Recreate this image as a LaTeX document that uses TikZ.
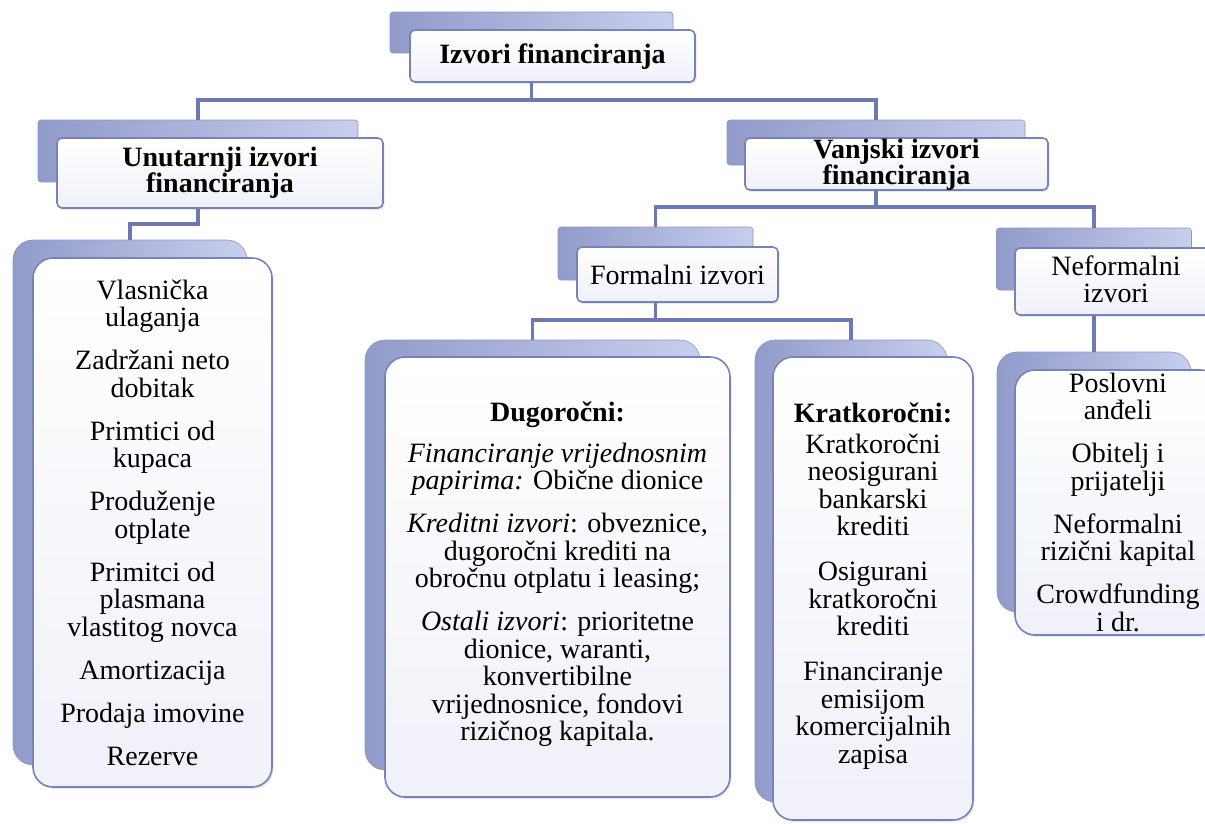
\documentclass[tikz,border=0pt]{standalone}
\usepackage{fontspec}
\setmainfont{Liberation Serif}
\usetikzlibrary{shadows}
\definecolor{connC}{RGB}{108,121,178}
\definecolor{frameC}{RGB}{118,130,188}
\definecolor{plateL}{RGB}{145,155,202}
\definecolor{plateR}{RGB}{200,206,237}
\definecolor{plateE}{RGB}{140,150,196}
\definecolor{boxbot}{RGB}{240,241,249}
\newcommand\tightlines{\lineskiplimit-50pt\relax}
\tikzset{
  plate/.style={rectangle, inner sep=0pt, outer sep=0pt, left color=plateL, right color=plateR, draw=plateE, line width=0.6pt},
  hplate/.style={plate, rounded corners=3pt},
  cplate/.style={plate, rounded corners=20pt},
  front/.style={rectangle, inner sep=0pt, outer sep=0pt, draw=frameC, line width=1.6pt, top color=white, bottom color=boxbot,
    drop shadow={opacity=0.18, shadow xshift=1.5pt, shadow yshift=-2pt}},
  hfront/.style={front, rounded corners=5pt},
  cfront/.style={front, rounded corners=20pt},
  txt/.style={align=center, inner sep=0pt, font={\fontsize{28}{27.5}\selectfont\tightlines}},
  htxt/.style={align=center, inner sep=0pt, font={\fontsize{28}{26.5}\selectfont\bfseries\tightlines}},
  link/.style={draw=connC, line width=3.5pt},
}
\begin{document}
\begin{tikzpicture}[x=1pt,y=-1pt]
\useasboundingbox (0,0) rectangle (1205,823);
\clip (0,0) rectangle (1205,823);
% back plates
\node[hplate, minimum width=283pt, minimum height=41pt] (topB) at (531.5,32.5) {};
\node[hplate, minimum width=320pt, minimum height=62pt] (unB) at (198,151) {};
\node[hplate, minimum width=298pt, minimum height=45pt] (vaB) at (876,142.5) {};
\node[hplate, minimum width=195pt, minimum height=53pt] (foB) at (655.5,253.5) {};
\node[hplate, minimum width=195pt, minimum height=62pt] (neB) at (1094,259) {};
\node[cplate, minimum width=234pt, minimum height=525pt] (leftB) at (130,502.5) {};
\node[cplate, minimum width=335pt, minimum height=430pt] (duB) at (532.5,555) {};
\node[cplate, minimum width=192pt, minimum height=462pt] (krB) at (851,571) {};
\node[cplate, minimum width=194pt, minimum height=260pt] (nfB) at (1094,482) {};
% connectors
\coordinate (j0) at (531.5,100);
\coordinate (j1) at (198,224);
\coordinate (j2) at (876,207);
\coordinate (j3) at (655.5,320);
\draw[link] (topB.south) -- (j0);
\draw[link] (unB.north) |- (j0) -| (vaB.north);
\draw[link] (unB.south) -- (j1) -| (leftB.north);
\draw[link] (vaB.south) -- (j2);
\draw[link] (foB.north) |- (j2) -| (neB.north);
\draw[link] (foB.south) -- (j3);
\draw[link] (duB.north) |- (j3) -| (krB.north);
\draw[link] (neB.south) -- (nfB.north);
% front boxes
\node[hfront, minimum width=285pt, minimum height=52pt] (topF) at (552.5,56) {};
\node[hfront, minimum width=326pt, minimum height=70pt] (unF) at (220,173) {};
\node[hfront, minimum width=303pt, minimum height=52pt] (vaF) at (896.5,164) {};
\node[hfront, minimum width=201pt, minimum height=55pt] (foF) at (677.5,274.5) {};
\node[hfront, minimum width=202pt, minimum height=67pt] (neF) at (1116,281.5) {};
\node[cfront, minimum width=239pt, minimum height=529pt] (leftF) at (152.5,522.5) {};
\node[cfront, minimum width=345pt, minimum height=440pt] (duF) at (557.5,577) {};
\node[cfront, minimum width=200pt, minimum height=463pt] (krF) at (873,588.5) {};
\node[cfront, minimum width=206pt, minimum height=265pt] (nfF) at (1118,502.5) {};
% texts
\node[htxt] (topT) at (552.5,56.5) {Izvori financiranja};
\node[htxt] (unT) at (220,173) {Unutarnji izvori\\financiranja};
\node[htxt] (vaT) at (896.5,165) {Vanjski izvori\\financiranja};
\node[txt] (foT) at (677.5,274.5) {Formalni izvori};
\node[txt] (neT) at (1116,279.5) {Neformalni\\izvori};
\node[txt] (leftT) at (152.5,522.5) {Vlasnička\\ulaganja\\[15.5pt]Zadržani neto\\dobitak\\[15.5pt]Primtici od\\kupaca\\[15.5pt]Produženje\\otplate\\[15.5pt]Primitci od\\plasmana\\vlastitog novca\\[15.5pt]Amortizacija\\[15.5pt]Prodaja imovine\\[15.5pt]Rezerve};
\node[txt] (duT) at (557.5,574.5) {\textbf{Dugoročni:}\\[13pt]\textit{Financiranje vrijednosnim}\\\textit{papirima:} Obične dionice\\[15.5pt]\textit{Kreditni izvori}: obveznice,\\dugoročni krediti na\\obročnu otplatu i leasing;\\[15.5pt]\textit{Ostali izvori}: prioritetne\\dionice, waranti,\\konvertibilne\\vrijednosnice, fondovi\\rizičnog kapitala.};
\node[txt] (krT) at (873,586) {\textbf{Kratkoročni:}\\[3pt]Kratkoročni\\neosigurani\\bankarski\\krediti\\[17.5pt]Osigurani\\kratkoročni\\krediti\\[17.5pt]Financiranje\\emisijom\\komercijalnih\\zapisa};
\node[txt] (nfT) at (1118,502) {Poslovni\\anđeli\\[15.5pt]Obitelj i\\prijatelji\\[15.5pt]Neformalni\\rizični kapital\\[15.5pt]Crowdfunding\\i dr.};
\end{tikzpicture}
\end{document}
